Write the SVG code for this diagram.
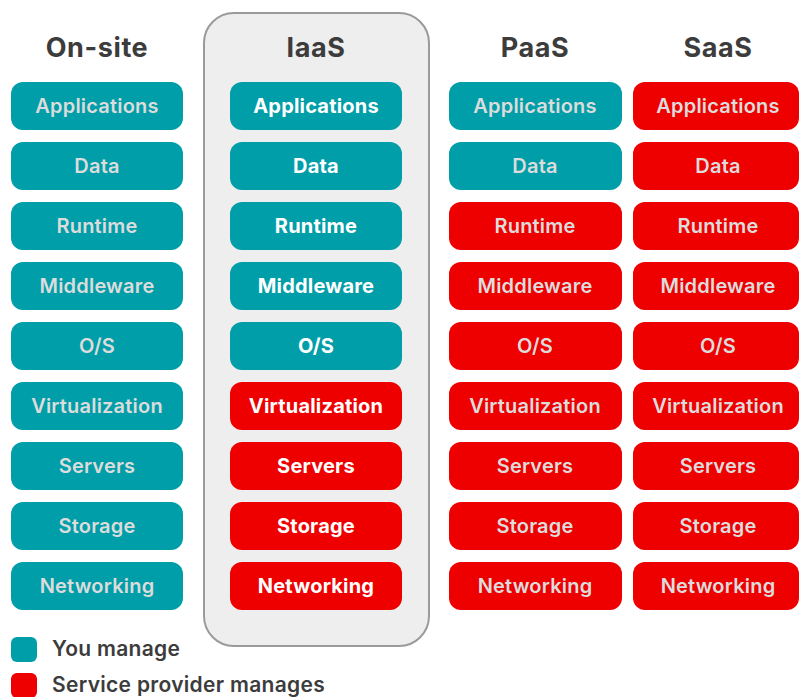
<svg xmlns="http://www.w3.org/2000/svg" width="800" height="697" viewBox="0 0 800 697">
<style>
.hdr{font-family:"Inter","Liberation Sans",sans-serif;font-weight:700;font-size:27px;letter-spacing:0.6px;fill:#3c3c3c;text-anchor:middle}
.you{fill:#009ea8}
.sp{fill:#ee0000}
.t{font-family:"Inter","Liberation Sans",sans-serif;font-weight:600;font-size:20px;letter-spacing:0.2px;fill:#dcdcdc;text-anchor:middle}
.tw{font-family:"Inter","Liberation Sans",sans-serif;font-weight:700;font-size:20px;letter-spacing:0.2px;fill:#ffffff;text-anchor:middle}
.leg{font-family:"Inter","Liberation Sans",sans-serif;font-weight:600;font-size:21px;letter-spacing:0.3px;fill:#3c3c3c}
</style>
<rect width="800" height="697" fill="#ffffff"/>
<g id="iaas-panel"><rect x="204" y="13" width="225" height="633" rx="30" fill="#eeeeee" stroke="#9a9a9a" stroke-width="2"/></g>
<g id="headers">
<text class="hdr" x="97" y="57">On-site</text>
<text class="hdr" x="316" y="57">IaaS</text>
<text class="hdr" x="535" y="57">PaaS</text>
<text class="hdr" x="718" y="57">SaaS</text>
</g>
<g id="onsite">
<g id="onsite-applications"><rect class="you" x="11" y="82" width="172" height="48" rx="12"/><text class="t" x="97" y="113">Applications</text></g>
<g id="onsite-data"><rect class="you" x="11" y="142" width="172" height="48" rx="12"/><text class="t" x="97" y="173">Data</text></g>
<g id="onsite-runtime"><rect class="you" x="11" y="202" width="172" height="48" rx="12"/><text class="t" x="97" y="233">Runtime</text></g>
<g id="onsite-middleware"><rect class="you" x="11" y="262" width="172" height="48" rx="12"/><text class="t" x="97" y="293">Middleware</text></g>
<g id="onsite-os"><rect class="you" x="11" y="322" width="172" height="48" rx="12"/><text class="t" x="97" y="353">O/S</text></g>
<g id="onsite-virtualization"><rect class="you" x="11" y="382" width="172" height="48" rx="12"/><text class="t" x="97" y="413">Virtualization</text></g>
<g id="onsite-servers"><rect class="you" x="11" y="442" width="172" height="48" rx="12"/><text class="t" x="97" y="473">Servers</text></g>
<g id="onsite-storage"><rect class="you" x="11" y="502" width="172" height="48" rx="12"/><text class="t" x="97" y="533">Storage</text></g>
<g id="onsite-networking"><rect class="you" x="11" y="562" width="172" height="48" rx="12"/><text class="t" x="97" y="593">Networking</text></g>
</g>
<g id="iaas">
<g id="iaas-applications"><rect class="you" x="230" y="82" width="172" height="48" rx="12"/><text class="tw" x="316" y="113">Applications</text></g>
<g id="iaas-data"><rect class="you" x="230" y="142" width="172" height="48" rx="12"/><text class="tw" x="316" y="173">Data</text></g>
<g id="iaas-runtime"><rect class="you" x="230" y="202" width="172" height="48" rx="12"/><text class="tw" x="316" y="233">Runtime</text></g>
<g id="iaas-middleware"><rect class="you" x="230" y="262" width="172" height="48" rx="12"/><text class="tw" x="316" y="293">Middleware</text></g>
<g id="iaas-os"><rect class="you" x="230" y="322" width="172" height="48" rx="12"/><text class="tw" x="316" y="353">O/S</text></g>
<g id="iaas-virtualization"><rect class="sp" x="230" y="382" width="172" height="48" rx="12"/><text class="tw" x="316" y="413">Virtualization</text></g>
<g id="iaas-servers"><rect class="sp" x="230" y="442" width="172" height="48" rx="12"/><text class="tw" x="316" y="473">Servers</text></g>
<g id="iaas-storage"><rect class="sp" x="230" y="502" width="172" height="48" rx="12"/><text class="tw" x="316" y="533">Storage</text></g>
<g id="iaas-networking"><rect class="sp" x="230" y="562" width="172" height="48" rx="12"/><text class="tw" x="316" y="593">Networking</text></g>
</g>
<g id="paas">
<g id="paas-applications"><rect class="you" x="449" y="82" width="173" height="48" rx="12"/><text class="t" x="535" y="113">Applications</text></g>
<g id="paas-data"><rect class="you" x="449" y="142" width="173" height="48" rx="12"/><text class="t" x="535" y="173">Data</text></g>
<g id="paas-runtime"><rect class="sp" x="449" y="202" width="173" height="48" rx="12"/><text class="t" x="535" y="233">Runtime</text></g>
<g id="paas-middleware"><rect class="sp" x="449" y="262" width="173" height="48" rx="12"/><text class="t" x="535" y="293">Middleware</text></g>
<g id="paas-os"><rect class="sp" x="449" y="322" width="173" height="48" rx="12"/><text class="t" x="535" y="353">O/S</text></g>
<g id="paas-virtualization"><rect class="sp" x="449" y="382" width="173" height="48" rx="12"/><text class="t" x="535" y="413">Virtualization</text></g>
<g id="paas-servers"><rect class="sp" x="449" y="442" width="173" height="48" rx="12"/><text class="t" x="535" y="473">Servers</text></g>
<g id="paas-storage"><rect class="sp" x="449" y="502" width="173" height="48" rx="12"/><text class="t" x="535" y="533">Storage</text></g>
<g id="paas-networking"><rect class="sp" x="449" y="562" width="173" height="48" rx="12"/><text class="t" x="535" y="593">Networking</text></g>
</g>
<g id="saas">
<g id="saas-applications"><rect class="sp" x="633" y="82" width="166" height="48" rx="12"/><text class="t" x="718" y="113">Applications</text></g>
<g id="saas-data"><rect class="sp" x="633" y="142" width="166" height="48" rx="12"/><text class="t" x="718" y="173">Data</text></g>
<g id="saas-runtime"><rect class="sp" x="633" y="202" width="166" height="48" rx="12"/><text class="t" x="718" y="233">Runtime</text></g>
<g id="saas-middleware"><rect class="sp" x="633" y="262" width="166" height="48" rx="12"/><text class="t" x="718" y="293">Middleware</text></g>
<g id="saas-os"><rect class="sp" x="633" y="322" width="166" height="48" rx="12"/><text class="t" x="718" y="353">O/S</text></g>
<g id="saas-virtualization"><rect class="sp" x="633" y="382" width="166" height="48" rx="12"/><text class="t" x="718" y="413">Virtualization</text></g>
<g id="saas-servers"><rect class="sp" x="633" y="442" width="166" height="48" rx="12"/><text class="t" x="718" y="473">Servers</text></g>
<g id="saas-storage"><rect class="sp" x="633" y="502" width="166" height="48" rx="12"/><text class="t" x="718" y="533">Storage</text></g>
<g id="saas-networking"><rect class="sp" x="633" y="562" width="166" height="48" rx="12"/><text class="t" x="718" y="593">Networking</text></g>
</g>
<g id="legend">
<rect class="you" x="11" y="637" width="26" height="25" rx="6"/>
<text class="leg" x="52" y="656">You manage</text>
<rect class="sp" x="11" y="673" width="26" height="25" rx="6"/>
<text class="leg" x="52" y="692">Service provider manages</text>
</g>
<g id="connectors"></g>
</svg>
